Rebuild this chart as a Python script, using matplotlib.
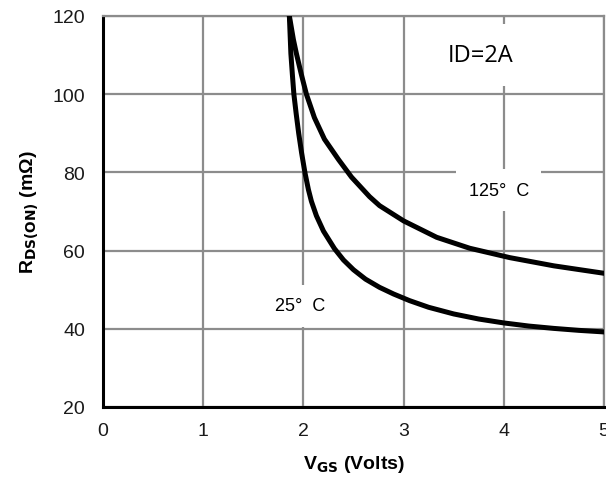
import numpy as np
import matplotlib
matplotlib.use("Agg")
import matplotlib.pyplot as plt

# curvas: VGS (V) vs RDS(on) (mOhm)
vgs_25 = [1.86, 1.875, 1.89, 1.905, 1.928, 1.953, 1.982, 2.015, 2.05, 2.08, 2.13, 2.20, 2.31,
          2.40, 2.50, 2.62, 2.76, 2.90, 3.06, 3.25, 3.50, 3.75, 4.00, 4.25, 4.50, 4.75, 5.00]
rds_25 = [120, 110.4, 105, 100, 95, 90, 85, 80, 75.6, 72.6, 68.9, 65.0, 60.5,
          57.6, 55.1, 52.7, 50.6, 48.9, 47.2, 45.5, 43.8, 42.5, 41.5, 40.7, 40.1, 39.6, 39.2]

vgs_125 = [1.86, 1.90, 1.93, 1.98, 2.03, 2.11, 2.21, 2.35, 2.48, 2.66, 2.76, 3.00, 3.33,
           3.66, 4.06, 4.50, 5.00]
rds_125 = [120, 114, 110.4, 105, 100, 94, 88.5, 83.3, 78.8, 73.8, 71.5, 67.6, 63.4,
           60.6, 58.2, 56.1, 54.2]

xticks = [0, 1, 2, 3, 4, 5]
yticks = [20, 40, 60, 80, 100, 120]

plt.rcParams['font.family'] = ['Liberation Sans', 'DejaVu Sans']

fig = plt.figure(figsize=(6.06, 4.85), dpi=100)
ax = fig.add_axes([103/606, 77/485, 501/606, 391/485])

ax.plot(vgs_25, rds_25, color='black', lw=3.6, solid_joinstyle='round', zorder=3)
ax.plot(vgs_125, rds_125, color='black', lw=3.6, solid_joinstyle='round', zorder=3)

ax.set_xlim(0, 5)
ax.set_ylim(20, 120)
ax.set_xticks(xticks)
ax.set_yticks(yticks)
ax.grid(True, color='#8c8c8c', lw=1.6)
ax.set_axisbelow(True)
ax.tick_params(length=0, labelsize=14, colors='#1a1a1a')
ax.tick_params(axis='y', pad=13)
ax.tick_params(axis='x', pad=11)

for s in ['top', 'right']:
    ax.spines[s].set_color('#8c8c8c')
    ax.spines[s].set_linewidth(1.6)
for s in ['left', 'bottom']:
    ax.spines[s].set_color('black')
    ax.spines[s].set_linewidth(2.2)

ax.set_xlabel('V$_\\mathbf{GS}$ (Volts)', fontsize=14, fontweight='bold', labelpad=10)
ax.set_ylabel('R$_\\mathbf{DS(ON)}$ (m\u03a9)', fontsize=14, fontweight='bold', labelpad=8)

caja = dict(facecolor='white', edgecolor='none', pad=9)
ax.text(3.77, 110, 'ID=2A', fontsize=17, family='Open Sans', ha='center', va='center',
        bbox=dict(facecolor='white', edgecolor='none', pad=14), zorder=4)
ax.text(3.95, 75.4, '125\u00b0  C', fontsize=13, ha='center', va='center', bbox=caja, zorder=4)
ax.text(1.97, 45.9, '25\u00b0  C', fontsize=13, ha='center', va='center', bbox=caja, zorder=4)

fig.savefig('out.png', dpi=100)
